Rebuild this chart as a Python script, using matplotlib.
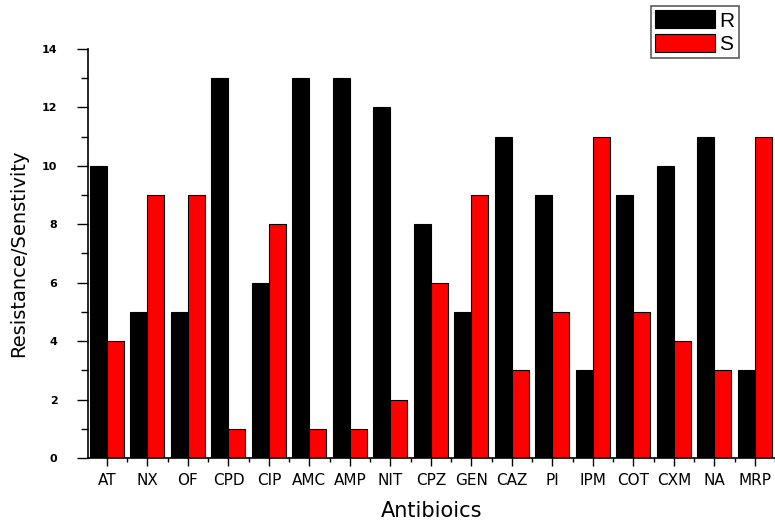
import numpy as np
import matplotlib
matplotlib.use("Agg")
import matplotlib.pyplot as plt
from matplotlib.ticker import MultipleLocator

plt.rcParams['font.family'] = ['Liberation Sans', 'DejaVu Sans']

# Datos
antibioticos = ['AT', 'NX', 'OF', 'CPD', 'CIP', 'AMC', 'AMP', 'NIT', 'CPZ',
                'GEN', 'CAZ', 'PI', 'IPM', 'COT', 'CXM', 'NA', 'MRP']
resistencia = [10, 5, 5, 13, 6, 13, 13, 12, 8, 5, 11, 9, 3, 9, 10, 11, 3]
sensibilidad = [4, 9, 9, 1, 8, 1, 1, 2, 6, 9, 3, 5, 11, 5, 4, 3, 11]

x = np.arange(len(antibioticos))
ancho = 0.42

fig = plt.figure(figsize=(7.75, 5.25), dpi=100)
ax = fig.add_axes([0.1135, 0.1276, 0.8865, 0.7791])

ax.bar(x - ancho / 2, resistencia, ancho, color='black', edgecolor='black',
       linewidth=0.8, label='R')
ax.bar(x + ancho / 2, sensibilidad, ancho, color='red', edgecolor='black',
       linewidth=0.8, label='S')

ax.set_xlim(-0.47, 16.5)
ax.set_ylim(0, 14)
ax.set_xticks(x)
ax.set_xticklabels(antibioticos, fontsize=11, family='DejaVu Sans')
ax.xaxis.set_minor_locator(MultipleLocator(0.5))
ax.yaxis.set_major_locator(MultipleLocator(2))
ax.yaxis.set_minor_locator(MultipleLocator(1))
ax.tick_params(axis='x', which='major', length=6, width=1, pad=5)
ax.tick_params(axis='x', which='minor', length=3, width=1)
ax.tick_params(axis='y', which='major', length=8, width=1, pad=14, labelsize=8)
ax.tick_params(axis='y', which='minor', length=5, width=1)
for lbl in ax.get_yticklabels():
    lbl.set_fontweight('bold')
    lbl.set_family('DejaVu Sans')

ax.spines['top'].set_visible(False)
ax.spines['right'].set_visible(False)
ax.spines['left'].set_linewidth(1.2)
ax.spines['bottom'].set_linewidth(1.2)

ax.set_xlabel('Antibioics', fontsize=15, family='DejaVu Sans', labelpad=9)
ax.set_ylabel('Resistance/Senstivity', fontsize=14, family='DejaVu Sans',
              labelpad=10)

leg = fig.legend(loc='upper right', bbox_to_anchor=(0.953, 0.988),
                 fontsize=15, frameon=True, fancybox=False, edgecolor='#333333',
                 handlelength=2.9, handleheight=0.95, handletextpad=0.2,
                 borderpad=0.2, labelspacing=0.15, borderaxespad=0)
leg.get_frame().set_linewidth(1.2)

fig.savefig('out.png', dpi=100)
